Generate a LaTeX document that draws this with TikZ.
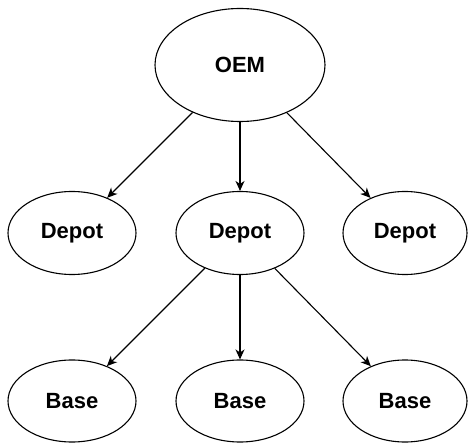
\documentclass[tikz,border=0pt]{standalone}
\usepackage{fontspec}
\setmainfont{Liberation Sans}
\usetikzlibrary{shapes.geometric,arrows.meta}
\begin{document}
\begin{tikzpicture}[x=1pt,y=-1pt,
  site/.style={draw, ellipse, line width=1.1pt, inner sep=0pt, minimum width=128pt, minimum height=83pt, font=\fontsize{22}{26}\selectfont\bfseries},
  link/.style={-{Stealth[length=10pt,width=9pt,inset=3pt]}, line width=1.1pt}]
\useasboundingbox (0,0) rectangle (468,443);
\node[site, minimum width=170pt, minimum height=113pt] (oem) at (240,65) {OEM};
\node[site] (depotl) at (72,233) {Depot};
\node[site] (depotm) at (240,233) {Depot};
\node[site, minimum width=124pt] (depotr) at (405,233) {Depot};
\node[site, minimum height=82pt] (basel) at (72,401) {Base};
\node[site, minimum height=82pt] (basem) at (240,401) {Base};
\node[site, minimum width=124pt, minimum height=82pt] (baser) at (405,401) {Base};

\draw[link] (oem) -- (depotl);
\draw[link] (oem) -- (depotm);
\draw[link] (oem) -- (depotr);
\draw[link] (depotm) -- (basel);
\draw[link] (depotm) -- (basem);
\draw[link] (depotm) -- (baser);
\end{tikzpicture}
\end{document}
